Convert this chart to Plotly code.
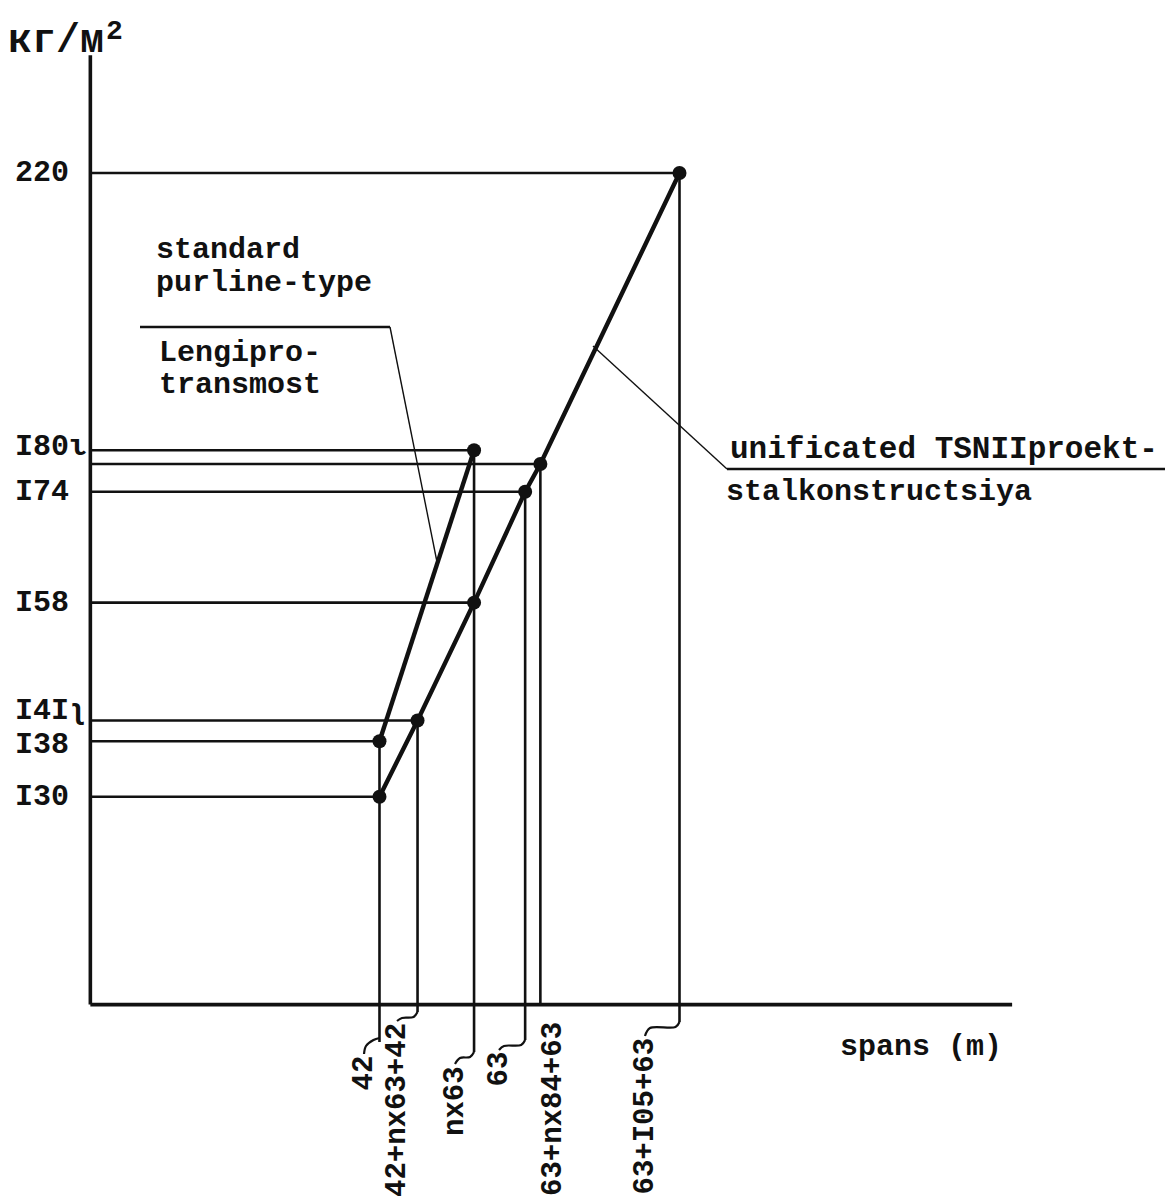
import plotly.graph_objects as go

# ---------------- data ----------------
span_labels = ["42", "42+nx63+42", "nx63", "63", "63+nx84+63", "63+I05+63"]
span_pos = [26.6, 30.1, 35.3, 40.0, 41.4, 54.2]          # position of each span along the (schematic) x axis

lengi_spans = ["42", "nx63"]                                 # standard purline-type / Lengiprotransmost
lengi_values = [138, 180]

tsnii_spans = ["42", "42+nx63+42", "nx63", "63", "63+nx84+63", "63+I05+63"]   # unificated TSNIIproekt-stalkonstructsiya
tsnii_values = [130, 141, 158, 174, 178, 220]

y_tick_vals = [220, 180, 174, 158, 141, 138, 130]
y_tick_text = ["220\u00a0", "I80ι", "I74\u00a0", "I58\u00a0", "I4Iʅ", "I38\u00a0", "I30\u00a0"]

y_axis_base = 100
y_axis_top = 237
x_axis_end = 84.8

# ---------------- geometry / style ----------------
OFF = 8                      # page offset of the figure (body margin)
W, H = 1165, 1196
L = 78
XR = [-0.4, 99.6]
YR = [71.23, 243.81]
FONT = "Liberation Mono, DejaVu Sans Mono, Courier New, monospace"
INK = "#111111"
FS = 30


def px_x(px):
    return XR[0] + (px - OFF - L) / (W - L) * (XR[1] - XR[0])


def px_y(py):
    return YR[1] - (py - OFF) / H * (YR[1] - YR[0])


def paper(px, py):
    return (px - OFF - L) / (W - L), 1 - (py - OFF) / H


def data_to_px(x):
    return OFF + L + (x - XR[0]) / (XR[1] - XR[0]) * (W - L)


pos = dict(zip(span_labels, span_pos))

# label placement below the axis (page pixels): stub end, label centre x, label top
below = {
    "42": (1042, 364, 1054),
    "42+nx63+42": (1012, 397, 1021),
    "nx63": (1052, 455, 1064),
    "63": (1040, 499, 1050),
    "63+nx84+63": (1004, 553, 1020),
    "63+I05+63": (1022, 645, 1036),
}
# small vertical nudges for y labels (pixels, up is positive)
ylabel_shift = {220: 0, 180: 3, 174: 0, 158: 0, 141: 9, 138: -4, 130: 0}

fig = go.Figure()

# horizontal guides from the y axis to each point
hx, hy = [], []
for spans, vals in ((lengi_spans, lengi_values), (tsnii_spans, tsnii_values)):
    for s, v in zip(spans, vals):
        hx += [0, pos[s], None]
        hy += [v, v, None]
fig.add_trace(go.Scatter(x=hx, y=hy, mode="lines", line=dict(color=INK, width=2.6),
                         hoverinfo="skip"))

# vertical guides from each point down below the x axis
tops = {}
for spans, vals in ((lengi_spans, lengi_values), (tsnii_spans, tsnii_values)):
    for s, v in zip(spans, vals):
        tops[s] = max(tops.get(s, v), v)
vx, vy = [], []
for s in span_labels:
    vx += [pos[s], pos[s], None]
    vy += [tops[s], px_y(below[s][0]), None]
fig.add_trace(go.Scatter(x=vx, y=vy, mode="lines", line=dict(color=INK, width=2.6),
                         hoverinfo="skip"))

# hooks connecting the verticals to the rotated labels
for s in span_labels:
    se, lx, lt = below[s]
    xv_px = data_to_px(pos[s])
    if s == "63+nx84+63":
        continue
    if s == "42":
        pts = [(xv_px, se - 4), (xv_px - 6, se - 2), (lx + 2, se + 4), (lx, lt)]
    else:
        pts = [(xv_px, se), (xv_px - 4, se + 5), (lx + 5, se + 6), (lx, lt)]
    fig.add_trace(go.Scatter(x=[px_x(p[0]) for p in pts], y=[px_y(p[1]) for p in pts],
                             mode="lines", line=dict(color=INK, width=2.2, shape="spline"),
                             hoverinfo="skip"))

# axes
fig.add_trace(go.Scatter(x=[0, 0], y=[y_axis_base, y_axis_top], mode="lines",
                         line=dict(color=INK, width=3.6), hoverinfo="skip"))
fig.add_trace(go.Scatter(x=[0, x_axis_end], y=[y_axis_base, y_axis_base], mode="lines",
                         line=dict(color=INK, width=3.6), hoverinfo="skip"))

# the two series
fig.add_trace(go.Scatter(x=[pos[s] for s in lengi_spans], y=lengi_values, mode="lines+markers",
                         line=dict(color=INK, width=4.4), marker=dict(color=INK, size=14),
                         name="standard purline-type Lengiprotransmost"))
fig.add_trace(go.Scatter(x=[pos[s] for s in tsnii_spans], y=tsnii_values, mode="lines+markers",
                         line=dict(color=INK, width=4.4), marker=dict(color=INK, size=14),
                         name="unificated TSNIIproekt-stalkonstructsiya"))

# legend-like labels: rules and leaders
for pts, w in (
    ([(140, 327), (390, 327)], 2.6),
    ([(390, 327), (437, 562)], 1.4),
    ([(727, 469), (1167, 469)], 2.6),
    ([(593, 346), (727, 469)], 1.4),
):
    fig.add_trace(go.Scatter(x=[px_x(p[0]) for p in pts], y=[px_y(p[1]) for p in pts],
                             mode="lines", line=dict(color=INK, width=w), hoverinfo="skip"))

annos = []


def text(t, px, py, xanchor="left", yanchor="middle", angle=0, size=FS):
    x, y = paper(px, py)
    annos.append(dict(text=t, x=x, y=y, xref="paper", yref="paper", xanchor=xanchor,
                      yanchor=yanchor, textangle=angle, showarrow=False,
                      font=dict(family=FONT, size=size, color=INK, weight="bold")))


# y axis labels
for v, t in zip(y_tick_vals, y_tick_text):
    annos.append(dict(text=t, x=paper(89, 0)[0], y=v, xref="paper", yref="y",
                      xanchor="right", yanchor="middle", yshift=ylabel_shift[v], showarrow=False,
                      font=dict(family=FONT, size=FS, color=INK, weight="bold")))

text("кг/м", 6, 42, size=40)
text("2", 104, 31, size=28)
text("standard", 154, 250)
text("purline-type", 154, 283)
text("Lengipro-", 157, 353)
text("transmost", 157, 385)
text("unificated TSNIIproekt-", 728, 450, size=31)
text("stalkonstructsiya", 724, 492)
text("spans (m)", 838, 1047)
for s in span_labels:
    se, lx, lt = below[s]
    text(s, lx, lt, xanchor="center", yanchor="top", angle=-90, size=29)

fig.update_layout(
    width=W, height=H,
    margin=dict(l=L, r=0, t=0, b=0),
    paper_bgcolor="white", plot_bgcolor="white",
    showlegend=False, hovermode=False,
    annotations=annos,
    xaxis=dict(range=XR, visible=False, fixedrange=True),
    yaxis=dict(range=YR, visible=False, fixedrange=True),
)

fig.write_html("out.html")
